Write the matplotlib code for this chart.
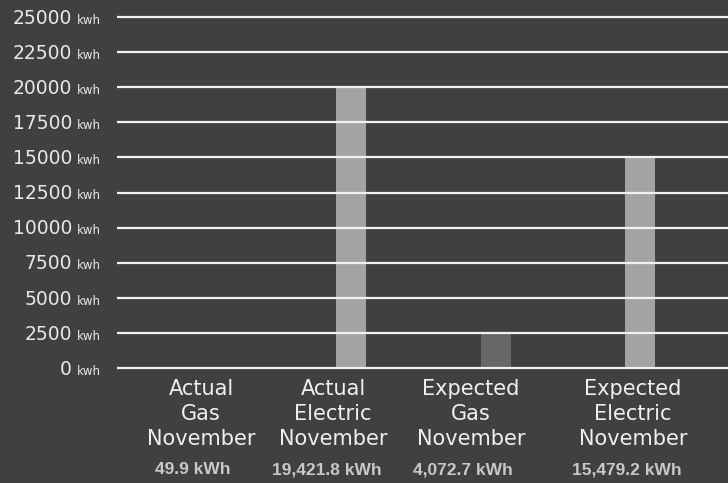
import numpy as np
import matplotlib.pyplot as plt
import matplotlib.transforms as mtransforms

# chart data
categories = ["Actual\nGas\nNovember", "Actual\nElectric\nNovember",
              "Expected\nGas\nNovember", "Expected\nElectric\nNovember"]
bar_heights = [49.9, 20000, 2500, 15000]
value_labels = ["49.9 kWh", "19,421.8 kWh", "4,072.7 kWh", "15,479.2 kWh"]
bar_colors = ["#a3a3a3", "#a3a3a3", "#686868", "#a3a3a3"]
y_ticks = [0, 2500, 5000, 7500, 10000, 12500, 15000, 17500, 20000, 22500, 25000]

W, H = 728, 483
bg = "#404040"

fig = plt.figure(figsize=(W / 100, H / 100), dpi=100, facecolor=bg)
ax = fig.add_axes([117 / W, (H - 368) / H, (W - 117) / W, (368 - 17) / H])
ax.set_facecolor(bg)

x = np.arange(len(categories))
ax.bar(x, bar_heights, width=0.208, color=bar_colors, zorder=1)
ax.hlines(y_ticks, -0.624, 3.61, colors="#f2f2f2", linewidth=1.6,
          zorder=2, clip_on=False)

ax.set_xlim(-0.624, 3.61)
ax.set_ylim(0, 25000)
ax.set_xticks([])
ax.set_yticks([])
for s in ax.spines.values():
    s.set_visible(False)

# y tick labels: number + small "kwh", sharing a baseline
tr = mtransforms.blended_transform_factory(fig.transFigure, ax.transData)
for t in y_ticks:
    base = t - 480
    ax.text(72 / W, base, str(t), transform=tr, ha="right", va="baseline",
            color="#e8e8e8", fontsize=13.5, family="DejaVu Sans")
    ax.text(77 / W, base, "kwh", transform=tr, ha="left", va="baseline",
            color="#e8e8e8", fontsize=8.5, family="DejaVu Sans")

# category labels and values under the axis
label_x = [201, 333, 471, 633]
value_x = [193, 327, 463, 627]
for lx, vx, cat, val in zip(label_x, value_x, categories, value_labels):
    fig.text(lx / W, (H - 414) / H, cat, ha="center", va="center",
             color="#f0f0f0", fontsize=15, family="DejaVu Sans",
             linespacing=1.3)
    fig.text(vx / W, (H - 470) / H, val, ha="center", va="center",
             color="#c8c8c8", fontsize=12.5, fontweight="bold",
             family="Liberation Sans")

fig.savefig("out.png", dpi=100, facecolor=bg)
